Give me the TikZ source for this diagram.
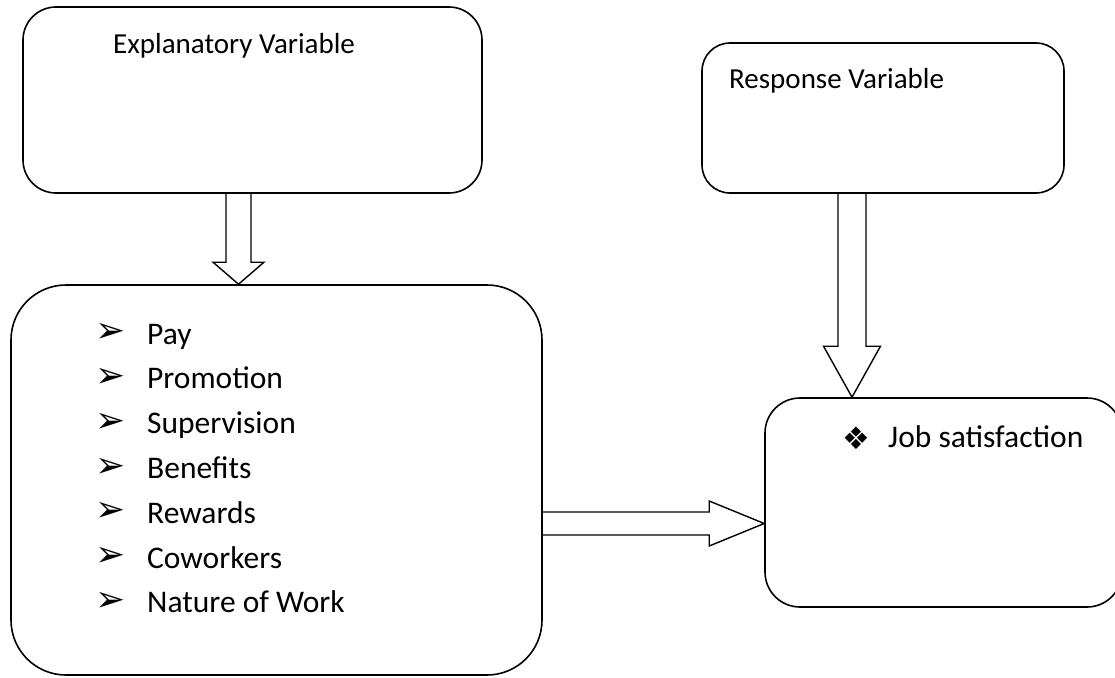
\documentclass[tikz,border=0pt]{standalone}
\usepackage{fontspec}
\setmainfont{Carlito}
\newfontfamily\dingfont{DejaVu Sans}
\usetikzlibrary{calc}
\tikzstyle{varbox} = [draw, line width=1.6pt, inner sep=0pt]
\tikzstyle{blockarrow} = [line width=1.4pt, line join=miter]
\tikzstyle{heading} = [anchor=base west, inner sep=0pt, font=\fontsize{29}{34}\selectfont]
\tikzstyle{item} = [anchor=base west, inner sep=0pt, font=\fontsize{31.5}{38}\selectfont]
\tikzstyle{bullet} = [inner sep=0pt, font=\dingfont\fontsize{36}{40}\selectfont]
\tikzstyle{diabullet} = [inner sep=0pt, font=\dingfont\fontsize{31}{36}\selectfont]

% hollow block arrows: #1 tail, #2 tip, #3 half shaft, #4 half head, #5 head length
\newcommand{\blockdown}[5]{%
  \draw[blockarrow] ($(#1)+(-#3,0)$) -- ($(#2)+(-#3,-#5)$) -- ($(#2)+(-#4,-#5)$)
    -- (#2) -- ($(#2)+(#4,-#5)$) -- ($(#2)+(#3,-#5)$) -- ($(#1)+(#3,0)$);}
\newcommand{\blockright}[5]{%
  \draw[blockarrow] ($(#1)+(0,-#3)$) -- ($(#2)+(-#5,-#3)$) -- ($(#2)+(-#5,-#4)$)
    -- (#2) -- ($(#2)+(-#5,#4)$) -- ($(#2)+(-#5,#3)$) -- ($(#1)+(0,#3)$);}

\begin{document}
\begin{tikzpicture}[x=1pt,y=-1pt]
  \useasboundingbox (0,0) rectangle (1115,677);
  \clip (0,0) rectangle (1115,677);

  % boxes
  \node[varbox, minimum width=459pt, minimum height=186pt, rounded corners=33pt] (expl) at (252.5,100) {};
  \node[varbox, minimum width=531pt, minimum height=390pt, rounded corners=55pt] (list) at (276.5,480) {};
  \node[varbox, minimum width=362pt, minimum height=150pt, rounded corners=28pt] (resp) at (883,118) {};
  \node[varbox, minimum width=357pt, minimum height=209pt, rounded corners=35pt] (job) at (943.5,502.5) {};

  % texts
  \node[heading] (explt) at (113,53) {Explanatory Variable};
  \node[heading] (respt) at (729,88) {Response Variable};
  \foreach \txt [count=\i] in {Pay, Promotion, Supervision, Benefits, Rewards, Coworkers, Nature of Work} {
    \node[bullet] (bul\i) at (111,{333+44.8*(\i-1)}) {➢};
    \node[item] (item\i) at (147,{344+44.8*(\i-1)}) {\txt};
  }
  \node[diabullet] (jobb) at (856,438) {❖};
  \node[item] (jobt) at (888,447) {Job satisfaction};

  % arrows
  \coordinate (a1) at ($(expl.south)+(-14,0)$);
  \coordinate (a2) at ($(resp.south)+(-31,0)$);
  \coordinate (a3) at ($(list.east)+(0,43.5)$);
  \blockdown{a1}{a1 |- list.north}{12.5}{25.5}{22}
  \blockdown{a2}{a2 |- job.north}{14}{28.5}{51}
  \blockright{a3}{a3 -| job.west}{11.5}{22.5}{55}
\end{tikzpicture}
\end{document}
